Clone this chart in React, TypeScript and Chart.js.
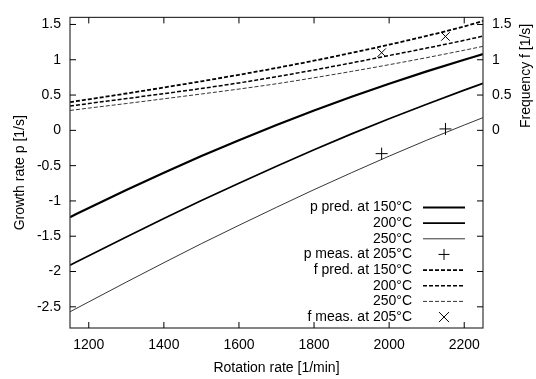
import { useEffect, useRef } from "react";
import { Chart, registerables } from "chart.js";

Chart.register(...registerables);

// Rotation rate [1/min]
const rotation = [1150, 1200, 1300, 1400, 1500, 1600, 1700, 1800, 1900, 2000, 2100, 2200, 2250];
// Growth rate p predicted [1/s]
const pPred150 = [-1.23, -1.1, -0.845, -0.6, -0.365, -0.14, 0.075, 0.28, 0.475, 0.66, 0.835, 1.0, 1.08];
const pPred200 = [-1.91, -1.775, -1.51, -1.25, -0.995, -0.75, -0.51, -0.275, -0.05, 0.165, 0.37, 0.57, 0.665];
const pPred250 = [-2.57, -2.43, -2.15, -1.875, -1.605, -1.345, -1.09, -0.84, -0.6, -0.365, -0.14, 0.075, 0.18];
// Frequency f predicted [1/s]
const fPred150 = [0.4, 0.44, 0.522, 0.607, 0.695, 0.787, 0.884, 0.987, 1.097, 1.214, 1.338, 1.472, 1.55];
const fPred200 = [0.345, 0.38, 0.45, 0.52, 0.593, 0.672, 0.76, 0.855, 0.955, 1.06, 1.165, 1.275, 1.335];
const fPred250 = [0.282, 0.315, 0.38, 0.447, 0.515, 0.585, 0.66, 0.745, 0.835, 0.93, 1.03, 1.135, 1.19];
// Measurements at 205°C
const measRotation = [1980, 2150];
const pMeas = [-0.33, 0.02];
const fMeas = [1.1, 1.33];

const xTicks = [1200, 1400, 1600, 1800, 2000, 2200];
const yTicks = [-2.5, -2, -1.5, -1, -0.5, 0, 0.5, 1, 1.5];
const y2Ticks = [0, 0.5, 1, 1.5];

const legendLabels = [
  "p pred. at 150°C",
  "200°C",
  "250°C",
  "p meas. at 205°C",
  "f pred. at 150°C",
  "200°C",
  "250°C",
  "f meas. at 205°C",
];

const FONT = "'Liberation Sans', Arial, Helvetica, sans-serif";

const pts = (xs: number[], ys: number[]) => xs.map((x, i) => ({ x, y: ys[i] }));

export default function App() {
  const ref = useRef<HTMLCanvasElement | null>(null);

  useEffect(() => {
    document.body.style.margin = "0";
    const canvas = ref.current;
    if (!canvas) return;

    const line = (label: string, data: number[], width: number, dash: number[], axis: string) => ({
      label,
      data: pts(rotation, data),
      showLine: true,
      borderColor: "#000",
      backgroundColor: "#000",
      borderWidth: width,
      borderDash: dash,
      pointRadius: 0,
      pointHoverRadius: 0,
      fill: false,
      cubicInterpolationMode: "monotone" as const,
      yAxisID: axis,
    });

    const marker = (label: string, data: number[], style: string, axis: string) => ({
      label,
      data: pts(measRotation, data),
      showLine: false,
      borderColor: "#000",
      backgroundColor: "#000",
      pointStyle: style,
      pointRadius: 6,
      pointBorderWidth: 1,
      yAxisID: axis,
    });

    const datasets: any[] = [
      line(legendLabels[0], pPred150, 2.2, [], "y"),
      line(legendLabels[1], pPred200, 1.7, [], "y"),
      line(legendLabels[2], pPred250, 0.8, [], "y"),
      marker(legendLabels[3], pMeas, "cross", "y"),
      line(legendLabels[4], fPred150, 1.8, [4, 2], "y2"),
      line(legendLabels[5], fPred200, 1.5, [4, 2], "y2"),
      line(legendLabels[6], fPred250, 0.8, [4, 2], "y2"),
      marker(legendLabels[7], fMeas, "crossRot", "y2"),
    ];

    const frame = {
      id: "gnuplotFrame",
      afterDraw(chart: any) {
        const { ctx, chartArea: a, scales } = chart;
        const tl = 6;
        ctx.save();
        ctx.globalAlpha = 1;
        ctx.globalCompositeOperation = "source-over";
        ctx.setLineDash([]);
        ctx.strokeStyle = "#333";
        ctx.lineWidth = 1.2;
        ctx.strokeRect(a.left, a.top, a.right - a.left, a.bottom - a.top);

        ctx.strokeStyle = "#000";
        ctx.lineWidth = 1;
        ctx.beginPath();
        for (const v of xTicks) {
          const x = scales.x.getPixelForValue(v);
          ctx.moveTo(x, a.bottom);
          ctx.lineTo(x, a.bottom - tl);
          ctx.moveTo(x, a.top);
          ctx.lineTo(x, a.top + tl);
        }
        for (const v of yTicks) {
          const y = scales.y.getPixelForValue(v);
          ctx.moveTo(a.left, y);
          ctx.lineTo(a.left + tl, y);
          ctx.moveTo(a.right, y);
          ctx.lineTo(a.right - tl, y);
        }
        ctx.stroke();

        // axis titles
        ctx.fillStyle = "#000";
        ctx.font = `14px ${FONT}`;
        ctx.textAlign = "center";
        ctx.textBaseline = "middle";
        ctx.fillText("Rotation rate [1/min]", (a.left + a.right) / 2, 368);
        ctx.save();
        ctx.translate(20, (a.top + a.bottom) / 2);
        ctx.rotate(-Math.PI / 2);
        ctx.fillText("Growth rate p [1/s]", 0, 0);
        ctx.restore();
        ctx.save();
        const y2mid = (scales.y2.getPixelForValue(0) + a.top) / 2 + 2;
        ctx.translate(526, y2mid);
        ctx.rotate(-Math.PI / 2);
        ctx.fillText("Frequency f [1/s]", 0, 0);
        ctx.restore();

        // legend
        const textRight = 412;
        const sx0 = 423;
        const sx1 = 465;
        const y0 = 207.5;
        const dy = 15.65;
        chart.data.datasets.forEach((ds: any, i: number) => {
          const y = y0 + i * dy;
          ctx.fillStyle = "#000";
          ctx.textAlign = "right";
          ctx.textBaseline = "middle";
          ctx.fillText(ds.label, textRight, y);
          ctx.strokeStyle = "#000";
          if (ds.showLine === false) {
            const r = 5.5;
            ctx.lineWidth = 1;
            ctx.setLineDash([]);
            ctx.beginPath();
            const cx = (sx0 + sx1) / 2;
            if (ds.pointStyle === "cross") {
              ctx.moveTo(cx - r, y);
              ctx.lineTo(cx + r, y);
              ctx.moveTo(cx, y - r);
              ctx.lineTo(cx, y + r);
            } else {
              const d = 5;
              ctx.moveTo(cx - d, y - d);
              ctx.lineTo(cx + d, y + d);
              ctx.moveTo(cx - d, y + d);
              ctx.lineTo(cx + d, y - d);
            }
            ctx.stroke();
          } else {
            ctx.lineWidth = ds.borderWidth;
            ctx.setLineDash(ds.borderDash || []);
            ctx.beginPath();
            ctx.moveTo(sx0, y);
            ctx.lineTo(sx1, y);
            ctx.stroke();
          }
        });
        ctx.restore();
      },
    };

    const tickFont = { family: FONT, size: 14 };
    const gridOff = { display: false, drawTicks: false, tickLength: 0 };

    const chart = new Chart(canvas, {
      type: "scatter",
      data: { datasets },
      plugins: [frame],
      options: {
        animation: false,
        responsive: false,
        layout: { padding: { top: 10, left: 0, right: 0, bottom: 0 } },
        plugins: { legend: { display: false }, tooltip: { enabled: false } },
        scales: {
          x: {
            type: "linear",
            min: 1150,
            max: 2250,
            grid: gridOff,
            border: { display: false },
            afterBuildTicks: (s: any) => {
              s.ticks = xTicks.map((v) => ({ value: v }));
            },
            afterFit: (s: any) => {
              s.height = 51;
            },
            ticks: {
              color: "#000",
              font: tickFont,
              padding: 9,
              maxRotation: 0,
              autoSkip: false,
              callback: (v: any) => String(v),
            },
          },
          y: {
            type: "linear",
            position: "left",
            min: -2.8,
            max: 1.6,
            grid: gridOff,
            border: { display: false },
            afterBuildTicks: (s: any) => {
              s.ticks = yTicks.map((v) => ({ value: v }));
            },
            afterFit: (s: any) => {
              s.width = 70;
            },
            ticks: {
              color: "#000",
              font: tickFont,
              padding: 9,
              autoSkip: false,
              callback: (v: any) => String(v),
            },
          },
          y2: {
            type: "linear",
            position: "right",
            min: -2.8,
            max: 1.6,
            grid: gridOff,
            border: { display: false },
            afterBuildTicks: (s: any) => {
              s.ticks = y2Ticks.map((v) => ({ value: v }));
            },
            afterFit: (s: any) => {
              s.width = 53;
            },
            ticks: {
              color: "#000",
              font: tickFont,
              padding: 9,
              autoSkip: false,
              callback: (v: any) => String(v),
            },
          },
        },
      } as any,
    });

    return () => chart.destroy();
  }, []);

  return (
    <div style={{ width: 536, height: 379, background: "#fff" }}>
      <canvas ref={ref} width={536} height={379} style={{ display: "block" }} />
    </div>
  );
}
